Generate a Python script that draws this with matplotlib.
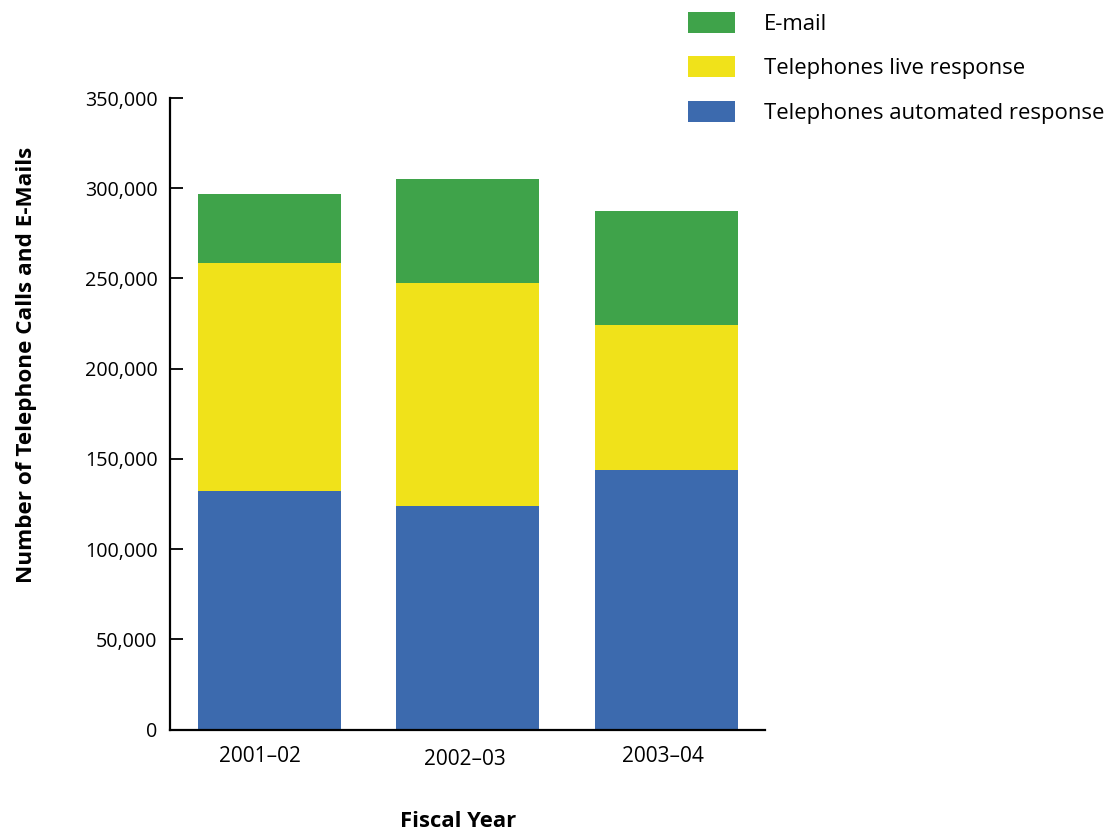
import matplotlib
matplotlib.use("Agg")
from matplotlib import pyplot as plt
from matplotlib.patches import Patch
from matplotlib.ticker import FuncFormatter
from matplotlib.transforms import ScaledTranslation

plt.rcParams['font.family'] = ['Open Sans', 'DejaVu Sans']

# fiscal years and counts per contact channel
years = ["2001\u201302", "2002\u201303", "2003\u201304"]
automated = [132400, 124100, 144100]
live = [126400, 123300, 79900]
email = [38100, 57700, 63500]

series_names = ["Telephones automated response", "Telephones live response", "E-mail"]
colors = ["#3c6aae", "#f0e21a", "#3fa34a"]

fig = plt.figure(figsize=(11.11, 8.35), dpi=100)
ax = fig.add_axes([0.153, 0.1263, 0.536, 0.7563])

x = list(range(len(years)))
bottom = [0, 0, 0]
for vals, col in zip([automated, live, email], colors):
    ax.bar(x, vals, width=0.72, bottom=bottom, color=col, linewidth=0)
    bottom = [b + v for b, v in zip(bottom, vals)]

ax.set_xlim(-0.5, 2.5)
ax.set_ylim(0, 350000)
ax.set_yticks(range(0, 350001, 50000))
ax.yaxis.set_major_formatter(FuncFormatter(lambda v, p: f"{int(v):,}"))
ax.set_xticks(x)
ax.set_xticklabels(years)

for s in ["top", "right"]:
    ax.spines[s].set_visible(False)
for s in ["left", "bottom"]:
    ax.spines[s].set_linewidth(1.6)

ax.tick_params(axis="y", direction="in", length=9, width=1.3, labelsize=14.2, pad=9)
ax.tick_params(axis="x", length=0, labelsize=15, pad=12)

# the year labels sit a little left of the bar centres, the middle one slightly lower
shifts = [(-9, 0), (-3, -3), (-3, 0)]
for lbl, (dx, dy) in zip(ax.get_xticklabels(), shifts):
    lbl.set_transform(lbl.get_transform() + ScaledTranslation(dx / 100, dy / 100, fig.dpi_scale_trans))

fig.text(0.412, 0.004, "Fiscal Year", ha="center", va="bottom",
         fontsize=15.8, fontweight="bold")
fig.text(0.024, 0.563, "Number of Telephone Calls and E-Mails", ha="center",
         va="center", rotation=90, fontsize=16.2, fontweight="bold")

handles = [Patch(facecolor=c, edgecolor="none") for c in colors]
fig.legend(handles[::-1], series_names[::-1], loc="upper left",
           bbox_to_anchor=(0.619, 0.986), frameon=False, fontsize=15.9,
           handlelength=2.16, handleheight=1.08, handletextpad=1.3,
           labelspacing=0.98, borderpad=0, borderaxespad=0)

fig.savefig("out.png", dpi=100)
